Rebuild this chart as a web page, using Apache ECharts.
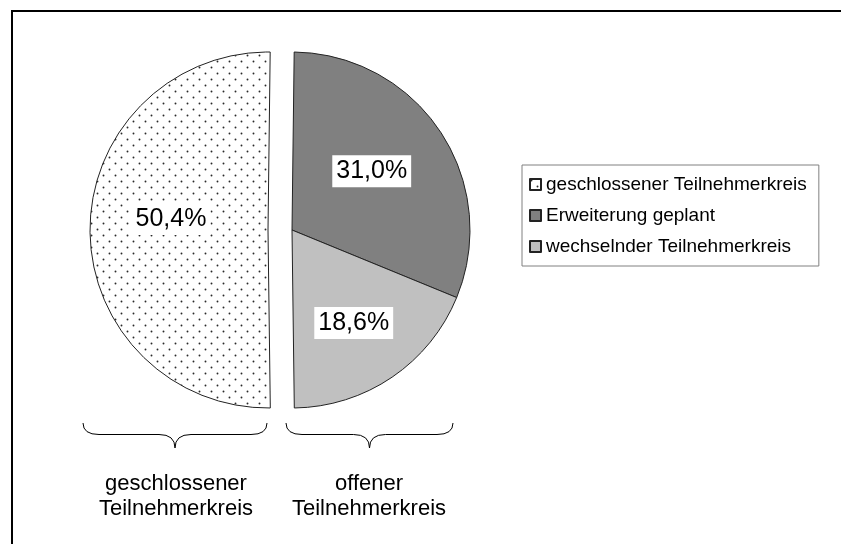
<!DOCTYPE html>
<html>
<head>
<meta charset="utf-8">
<script src="https://cdn.jsdelivr.net/npm/echarts@6/dist/echarts.min.js"></script>
<style>
  html, body { margin: 0; padding: 0; background: #fff; }
  #chart { width: 841px; height: 544px; }
</style>
</head>
<body>
<div id="chart"></div>
<script>
// Anteile in Prozent
const categories = ['geschlossener Teilnehmerkreis', 'Erweiterung geplant', 'wechselnder Teilnehmerkreis'];
const shares = [50.4, 31.0, 18.6];
const groupLabels = ['geschlossener\nTeilnehmerkreis', 'offener\nTeilnehmerkreis'];

const FONT = 'Liberation Sans, Arial, sans-serif';

// Punktmuster wie in Excel
function dotPattern() {
  const c = document.createElement('canvas');
  c.width = 12;
  c.height = 12;
  const ctx = c.getContext('2d');
  ctx.fillStyle = '#fff';
  ctx.fillRect(0, 0, 12, 12);
  ctx.fillStyle = '#2a2a2a';
  ctx.beginPath();
  ctx.arc(1.5, 1.5, 0.95, 0, Math.PI * 2);
  ctx.closePath();
  ctx.arc(7.5, 7.5, 0.95, 0, Math.PI * 2);
  ctx.closePath();
  ctx.fill();
  return c;
}

const sliceColors = [
  { image: dotPattern(), repeat: 'repeat' },
  '#808080',
  '#c0c0c0'
];

const fmt = function (p) {
  return p.value.toFixed(1).replace('.', ',') + '%';
};

const hidden = {
  itemStyle: { color: 'transparent', borderWidth: 0 },
  label: { show: false },
  tooltip: { show: false }
};

const labelStyle = {
  show: true,
  position: 'inside',
  formatter: fmt,
  fontFamily: FONT,
  fontSize: 25,
  color: '#000',
  backgroundColor: '#fff',
  padding: [4, 4, 3, 4]
};

const baseSlice = { borderColor: '#222', borderWidth: 1 };

// label shifts to mimic the original placement
const shifts = {
  '0-0': [3, -8],
  '0-1': [10, 17],
  '1-1': [-5, -11]
};

// geschweifte Klammer unter einer Hälfte
function brace(x0, x1, top, bottom) {
  const xm = (x0 + x1) / 2;
  const mid = (top + bottom) / 2 - 1;
  const st = { stroke: '#000', lineWidth: 1, fill: 'none' };
  const q = function (a, b, c, d, e, f) {
    return { type: 'bezierCurve', shape: { x1: a, y1: b, cpx1: c, cpy1: d, x2: e, y2: f }, style: st, silent: true };
  };
  const l = function (a, b, c, d) {
    return { type: 'line', shape: { x1: a, y1: b, x2: c, y2: d }, style: st, silent: true };
  };
  return [
    q(x0, top, x0, mid, x0 + 16, mid),
    l(x0 + 16, mid, xm - 16, mid),
    q(xm - 16, mid, xm, mid, xm, bottom),
    q(xm, bottom, xm, mid, xm + 16, mid),
    l(xm + 16, mid, x1 - 16, mid),
    q(x1 - 16, mid, x1, mid, x1, top)
  ];
}

const myEchart = echarts.init(document.getElementById('chart'));

const option = {
  animation: false,
  legend: {
    orient: 'vertical',
    left: 522,
    top: 165,
    data: categories,
    icon: 'rect',
    itemWidth: 11,
    itemHeight: 11,
    itemGap: 12,
    padding: [10, 12, 10, 7],
    borderColor: '#808080',
    borderWidth: 1,
    selectedMode: false,
    textStyle: { fontFamily: FONT, fontSize: 19, color: '#000' }
  },
  series: [
    {
      // offener Teilnehmerkreis (rechte Hälfte)
      type: 'pie',
      center: [292, 230],
      radius: 178,
      startAngle: 89.3,
      clockwise: true,
      avoidLabelOverlap: false,
      emphasis: { disabled: true },
      labelLine: { show: false },
      label: labelStyle,
      labelLayout: function (p) {
        const s = shifts['0-' + p.dataIndex];
        return s ? { dx: s[0], dy: s[1] } : {};
      },
      data: [
        { name: categories[1], value: shares[1], itemStyle: Object.assign({ color: sliceColors[1] }, baseSlice) },
        { name: categories[2], value: shares[2], itemStyle: Object.assign({ color: sliceColors[2] }, baseSlice) },
        Object.assign({ name: 'rest_a', value: shares[0] }, hidden)
      ]
    },
    {
      // geschlossener Teilnehmerkreis (linke Hälfte)
      type: 'pie',
      center: [268, 230],
      radius: 178,
      startAngle: 89.3,
      clockwise: true,
      avoidLabelOverlap: false,
      emphasis: { disabled: true },
      labelLine: { show: false },
      label: labelStyle,
      labelLayout: function (p) {
        const s = shifts['1-' + p.dataIndex];
        return s ? { dx: s[0], dy: s[1] } : {};
      },
      data: [
        Object.assign({ name: 'rest_b', value: shares[1] + shares[2] }, hidden),
        { name: categories[0], value: shares[0], itemStyle: Object.assign({ color: sliceColors[0] }, baseSlice) }
      ]
    }
  ],
  graphic: [
    {
      type: 'rect',
      z: -1,
      silent: true,
      shape: { x: 12, y: 11, width: 1000, height: 1000 },
      style: { fill: 'none', stroke: '#000', lineWidth: 2 }
    }
  ].concat(brace(83, 267, 423, 448), brace(286, 453, 423, 448), [
    {
      type: 'text',
      x: 176,
      y: 471,
      style: { text: groupLabels[0], font: '22px ' + FONT, fill: '#000', align: 'center', verticalAlign: 'top', lineHeight: 25 }
    },
    {
      type: 'text',
      x: 369,
      y: 471,
      style: { text: groupLabels[1], font: '22px ' + FONT, fill: '#000', align: 'center', verticalAlign: 'top', lineHeight: 25 }
    }
  ])
};

myEchart.setOption(option, true);
</script>
</body>
</html>
